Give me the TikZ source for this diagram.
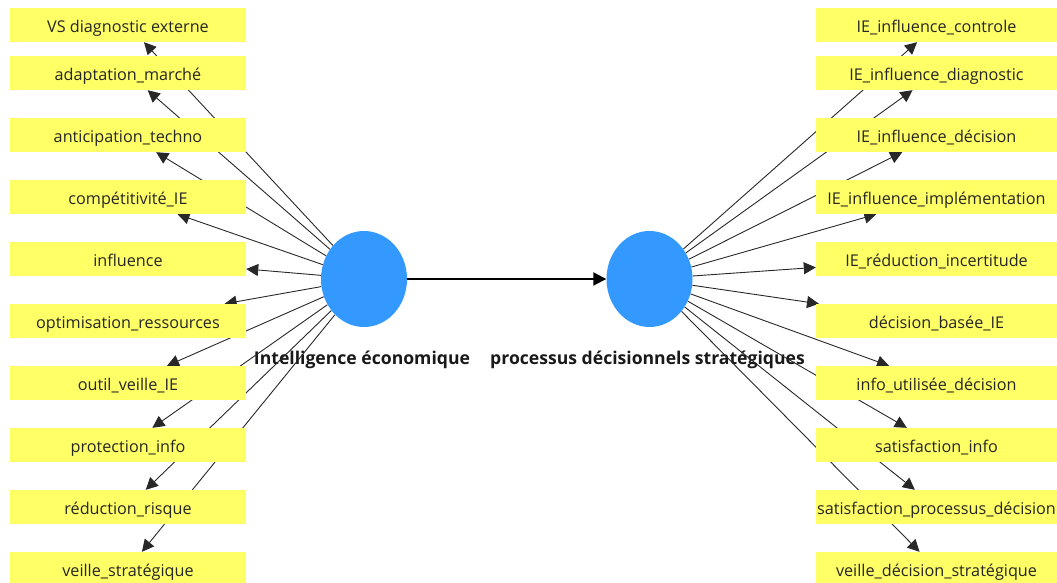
\documentclass[tikz,border=0pt]{standalone}
\usepackage{fontspec}
\setmainfont{Open Sans}
\usetikzlibrary{shapes.geometric,arrows.meta,backgrounds}
\definecolor{boxyellow}{RGB}{255,255,102}
\definecolor{nodeblue}{RGB}{51,153,255}
\definecolor{edgegray}{RGB}{40,40,40}
\tikzset{
  ybox/.style={rectangle, fill=boxyellow, draw=none, minimum height=34pt, inner sep=0pt,
    text height=15pt, text depth=0pt,
    font=\fontsize{16.2}{18}\selectfont, text=black!85},
  lbox/.style={ybox, minimum width=236pt},
  rbox/.style={ybox, minimum width=241pt},
  hub/.style={ellipse, fill=nodeblue, draw=none, minimum width=86pt, minimum height=96pt, inner sep=0pt},
  hublabel/.style={font=\bfseries\fontsize{17.6}{20}\selectfont, text=black!90, inner sep=0pt},
  edge/.style={draw=edgegray, line width=0.9pt, -{Triangle[length=12pt,width=12pt]}},
  mainedge/.style={draw=black, line width=2pt, -{Triangle[length=13pt,width=13pt]}}
}
\begin{document}
\begin{tikzpicture}[x=1pt,y=-1pt]
\useasboundingbox (0,0) rectangle (1057,583);
\begin{scope}
\clip (0,0) rectangle (1057,583);
% left boxes
\node[lbox] (l1) at (128,25) {VS diagnostic externe};
\node[lbox] (l2) at (128,73) {adaptation\_marché};
\node[lbox] (l3) at (128,135) {anticipation\_techno};
\node[lbox] (l4) at (128,197) {compétitivité\_IE};
\node[lbox] (l5) at (128,259) {influence};
\node[lbox] (l6) at (128,321) {optimisation\_ressources};
\node[lbox] (l7) at (128,383) {outil\_veille\_IE};
\node[lbox] (l8) at (128,445) {protection\_info};
\node[lbox] (l9) at (128,507) {réduction\_risque};
\node[lbox] (l10) at (128,569) {veille\_stratégique};
% right boxes
\node[rbox] (r1) at (936.5,25) {IE\_influence\_controle};
\node[rbox] (r2) at (936.5,73) {IE\_influence\_diagnostic};
\node[rbox] (r3) at (936.5,135) {IE\_influence\_décision};
\node[rbox] (r4) at (936.5,197) {IE\_influence\_implémentation};
\node[rbox] (r5) at (936.5,259) {IE\_réduction\_incertitude};
\node[rbox] (r6) at (936.5,321) {décision\_basée\_IE};
\node[rbox] (r7) at (936.5,383) {info\_utilisée\_décision};
\node[rbox] (r8) at (936.5,445) {satisfaction\_info};
\node[rbox] (r9) at (936.5,507) {satisfaction\_processus\_décision};
\node[rbox] (r10) at (936.5,569) {veille\_décision\_stratégique};
\end{scope}
% hubs
\node[hub] (L) at (364,279) {};
\node[hub] (R) at (649.5,279) {};
\begin{pgfonlayer}{background}
\node[hublabel] (Llab) at (362,360) {Intelligence économique};
\node[hublabel] (Rlab) at (647.5,360) {processus décisionnels stratégiques};
\foreach \i in {1,...,10} {
  \draw[edge] (L) -- (l\i);
  \draw[edge] (R) -- (r\i);
}
\end{pgfonlayer}
\draw[mainedge] (L) -- (R);
\end{tikzpicture}
\end{document}
